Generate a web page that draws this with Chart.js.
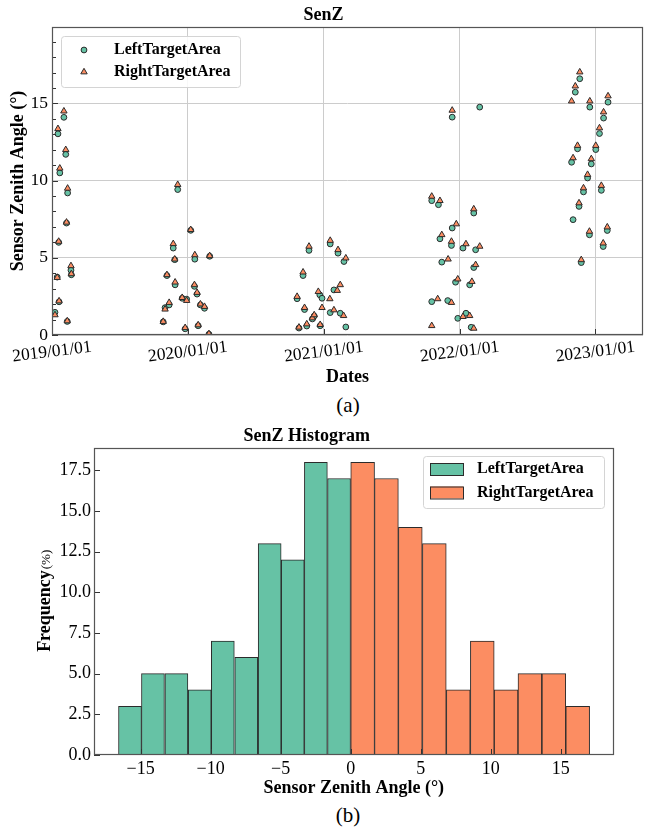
<!DOCTYPE html>
<html>
<head>
<meta charset="utf-8">
<script src="https://cdn.jsdelivr.net/npm/chart.js@4.4.1/dist/chart.umd.min.js"></script>
<style>
  body { margin: 0; background: #fff; }
  #wrap { position: relative; width: 648px; height: 827px; overflow: hidden; }
  canvas { position: absolute; left: 0; }
  .cap { position: absolute; left: 298px; width: 100px; text-align: center;
         font: 21px 'Liberation Serif', 'Times New Roman', serif; line-height: 24px; color: #000; }
</style>
</head>
<body>
<div id="wrap">
  <canvas id="senz" width="648" height="390" style="top:0"></canvas>
  <div class="cap" style="top:393px">(a)</div>
  <canvas id="hist" width="648" height="380" style="top:420px"></canvas>
  <div class="cap" style="top:803px">(b)</div>
</div>
<script>
const FONT = "'Liberation Serif', 'Times New Roman', serif";
const GREEN = '#66c2a5', ORANGE = '#fc8d62', EDGE = '#2b2b2b';

// scatter (a)
const yearTicks = ['2019/01/01', '2020/01/01', '2021/01/01', '2022/01/01', '2023/01/01'];
const senZTicks = [0, 5, 10, 15];

const leftDates = [
  '2019-01-09','2019-01-15','2019-01-17','2019-01-19','2019-01-20','2019-01-22','2019-02-02','2019-02-07',
  '2019-02-09','2019-02-11','2019-02-12','2019-02-21','2019-02-22',
  '2019-10-27','2019-11-01','2019-11-06','2019-11-12','2019-11-23','2019-11-27','2019-11-28','2019-12-05',
  '2019-12-17','2019-12-25','2019-12-29','2020-01-09','2020-01-19','2020-01-20','2020-01-26','2020-01-29',
  '2020-02-04','2020-02-15','2020-02-27','2020-02-29',
  '2020-10-21','2020-10-26','2020-11-06','2020-11-10','2020-11-16','2020-11-22','2020-12-01','2020-12-06',
  '2020-12-21','2020-12-22','2020-12-27','2021-01-18','2021-01-18','2021-01-28','2021-02-08','2021-02-14',
  '2021-02-24','2021-03-01',
  '2021-10-18','2021-10-18','2021-11-05','2021-11-09','2021-11-14','2021-11-30','2021-12-10','2021-12-12',
  '2021-12-12','2021-12-21','2021-12-27','2022-01-10','2022-01-18','2022-01-28','2022-02-01','2022-02-08',
  '2022-02-08','2022-02-13','2022-02-24',
  '2022-10-29','2022-11-02','2022-11-08','2022-11-14','2022-11-18','2022-11-20','2022-11-24','2022-11-30',
  '2022-12-11','2022-12-16','2022-12-17','2022-12-21','2023-01-02','2023-01-12','2023-01-17','2023-01-22',
  '2023-01-23','2023-02-02','2023-02-04'
];
const leftSenZ = [
  1.47, 3.75, 13.03, 6.0, 2.15, 10.5, 14.1, 11.7,
  7.25, 0.88, 9.2, 4.2, 3.9,
  0.85, 1.77, 3.85, 1.95, 5.63, 4.88, 3.25, 9.42,
  2.38, 0.4, 2.32, 6.78, 3.15, 4.91, 2.65, 0.6,
  1.95, 1.73, 0.05, 5.1,
  2.35, 0.45, 3.85, 1.65, 0.58, 5.48, 1.04, 1.23,
  2.6, 0.6, 2.38, 5.9, 1.45, 2.92, 5.3, 1.41,
  4.76, 0.52,
  2.16, 8.7, 8.44, 6.23, 4.72, 2.23, 5.8, 14.11,
  6.93, 3.42, 1.08, 5.63, 1.41, 3.25, 0.5, 7.9,
  4.37, 5.52, 14.76,
  11.19, 7.47, 15.73, 12.06, 8.33, 16.6, 4.69, 9.27,
  10.17, 6.49, 14.76, 11.08, 12.01, 13.05, 9.37, 5.73,
  14.05, 6.77, 15.08
];

const rightDates = [
  '2019-01-09','2019-01-15','2019-01-17','2019-01-19','2019-01-20','2019-01-22','2019-02-02','2019-02-07',
  '2019-02-09','2019-02-11','2019-02-12','2019-02-21','2019-02-22',
  '2019-10-27','2019-11-01','2019-11-06','2019-11-12','2019-11-23','2019-11-27','2019-11-28','2019-12-05',
  '2019-12-17','2019-12-25','2019-12-29','2020-01-09','2020-01-19','2020-01-20','2020-01-26','2020-01-29',
  '2020-02-04','2020-02-15','2020-02-27','2020-02-29',
  '2020-10-21','2020-10-26','2020-11-06','2020-11-10','2020-11-16','2020-11-22','2020-12-01','2020-12-06',
  '2020-12-17','2020-12-22','2020-12-27','2021-01-17','2021-01-18','2021-01-28','2021-02-06','2021-02-08',
  '2021-02-14','2021-02-23','2021-03-01',
  '2021-10-18','2021-10-18','2021-11-03','2021-11-09','2021-11-14','2021-12-01','2021-12-10','2021-12-10',
  '2021-12-12','2021-12-23','2021-12-27','2022-01-10','2022-01-18','2022-01-28','2022-02-03','2022-02-08',
  '2022-02-08','2022-02-13','2022-02-24',
  '2022-10-29','2022-11-02','2022-11-08','2022-11-14','2022-11-18','2022-11-20','2022-11-24','2022-11-30',
  '2022-12-11','2022-12-16','2022-12-17','2022-12-21','2023-01-02','2023-01-12','2023-01-17','2023-01-22',
  '2023-01-23','2023-02-02','2023-02-04'
];
const rightSenZ = [
  1.3, 3.72, 13.36, 6.06, 2.2, 10.8, 14.5, 12.0,
  7.3, 0.91, 9.5, 4.48, 3.96,
  0.87, 1.67, 3.9, 2.1, 5.91, 4.91, 3.42, 9.74,
  2.42, 0.47, 2.23, 6.82, 3.25, 5.19, 2.75, 0.65,
  2.0, 1.84, 0.08, 5.13,
  2.49, 0.5, 4.07, 1.77, 0.71, 5.74, 1.1, 1.3,
  2.81, 0.67, 1.77, 2.34, 6.12, 1.62, 2.88, 5.52,
  3.25, 1.25, 4.98,
  0.6, 8.98, 2.34, 8.7, 6.49, 4.91, 6.06, 2.1,
  14.55, 7.19, 3.62, 1.19, 5.9, 1.25, 3.46, 8.16,
  0.43, 4.55, 5.74,
  15.15, 11.47, 16.12, 12.27, 8.55, 17.03, 4.87, 9.52,
  10.39, 6.71, 15.15, 11.41, 12.27, 13.41, 9.68, 5.95,
  14.44, 6.99, 15.48
];

// histogram (b)
const leftBinEdges = [-16.57, -14.95, -13.29, -11.6, -9.96, -8.3, -6.61, -4.96, -3.31, -1.66, 0];
const leftFreq = [3, 5, 5, 4, 7, 6, 13, 12, 18, 17];
const rightBinEdges = [0, 1.71, 3.4, 5.12, 6.83, 8.54, 10.26, 11.94, 13.66, 15.36, 17.07];
const rightFreq = [18, 17, 14, 13, 4, 7, 4, 5, 5, 3];
const histXTicks = [-15, -10, -5, 0, 5, 10, 15];
const histYTicks = [0, 2.5, 5, 7.5, 10, 12.5, 15, 17.5];

const DAY0 = Date.UTC(2019, 0, 1);
function dayOf(s) {
  const p = s.split(/[-\/]/).map(Number);
  return (Date.UTC(p[0], p[1] - 1, p[2]) - DAY0) / 86400000;
}
function fixTicks(values) {
  return s => { s.ticks = values.map(v => ({ value: v })); };
}

function drawFrame(chart, xMajor, yMajor, yMinor) {
  const { ctx, chartArea: a, scales } = chart;
  ctx.save();
  ctx.strokeStyle = '#333';
  ctx.lineWidth = 1;
  ctx.beginPath();
  xMajor.forEach(v => {
    const x = Math.round(scales.x.getPixelForValue(v)) + 0.5;
    ctx.moveTo(x, a.bottom); ctx.lineTo(x, a.bottom - 6);
  });
  yMajor.forEach(v => {
    const y = Math.round(scales.y.getPixelForValue(v)) + 0.5;
    ctx.moveTo(a.left, y); ctx.lineTo(a.left + 6, y);
  });
  yMinor.forEach(v => {
    const y = Math.round(scales.y.getPixelForValue(v)) + 0.5;
    ctx.moveTo(a.left, y); ctx.lineTo(a.left + 4, y);
  });
  ctx.stroke();
  ctx.strokeStyle = '#555';
  ctx.lineWidth = 1.2;
  ctx.strokeRect(Math.round(a.left) + 0.5, Math.round(a.top) + 0.5,
                 Math.round(a.right - a.left) - 1, Math.round(a.bottom - a.top) - 1);
  ctx.restore();
}

function legendBox(ctx, x, y, w, h) {
  ctx.save();
  ctx.fillStyle = 'rgba(255,255,255,0.85)';
  ctx.strokeStyle = '#d4d4d4';
  ctx.lineWidth = 1;
  ctx.beginPath();
  ctx.roundRect(x + 0.5, y + 0.5, w, h, 3);
  ctx.fill();
  ctx.stroke();
  ctx.restore();
}

const boldFont = { family: FONT, size: 18, weight: 'bold' };

// ---------- (a) scatter ----------
const scatterDecor = {
  id: 'scatterDecor',
  afterDraw(chart) {
    const { ctx, chartArea: a, scales } = chart;
    const minor = [];
    for (let v = 1; v < 20; v++) if (v % 5) minor.push(v);
    drawFrame(chart, yearTicks.map(dayOf), senZTicks, minor);

    // slightly tilted date labels
    ctx.save();
    ctx.fillStyle = '#000';
    ctx.font = '17.5px ' + FONT;
    ctx.textAlign = 'center';
    ctx.textBaseline = 'middle';
    scales.x.ticks.forEach((t, i) => {
      ctx.save();
      ctx.translate(scales.x.getPixelForValue(t.value), a.bottom + 17);
      ctx.rotate(-7 * Math.PI / 180);
      ctx.fillText(yearTicks[i], 0, 0);
      ctx.restore();
    });
    ctx.restore();

    // legend
    legendBox(ctx, 61, 36, 179, 51);
    const left = chart.data.datasets[1], right = chart.data.datasets[0];
    ctx.save();
    ctx.strokeStyle = EDGE;
    ctx.lineWidth = 1;
    ctx.fillStyle = left.backgroundColor;
    ctx.beginPath(); ctx.arc(84, 50, left.pointRadius, 0, Math.PI * 2); ctx.fill(); ctx.stroke();
    const r = right.pointRadius;
    ctx.fillStyle = right.backgroundColor;
    ctx.beginPath();
    ctx.moveTo(84, 72 - r);
    ctx.lineTo(84 + r * 0.866, 72 + r * 0.5);
    ctx.lineTo(84 - r * 0.866, 72 + r * 0.5);
    ctx.closePath(); ctx.fill(); ctx.stroke();
    ctx.fillStyle = '#000';
    ctx.font = 'bold 16px ' + FONT;
    ctx.textBaseline = 'middle';
    ctx.fillText(left.label, 114, 50);
    ctx.fillText(right.label, 114, 72);
    ctx.restore();
  }
};

new Chart(document.getElementById('senz'), {
  type: 'scatter',
  data: {
    datasets: [
      {
        label: 'RightTargetArea',
        data: rightDates.map((d, i) => ({ x: dayOf(d), y: rightSenZ[i] })),
        pointStyle: 'triangle', pointRadius: 3.7,
        backgroundColor: ORANGE, borderColor: EDGE, borderWidth: 1, order: 0
      },
      {
        label: 'LeftTargetArea',
        data: leftDates.map((d, i) => ({ x: dayOf(d), y: leftSenZ[i] })),
        pointStyle: 'circle', pointRadius: 2.9,
        backgroundColor: GREEN, borderColor: EDGE, borderWidth: 1, order: 1
      }
    ]
  },
  options: {
    responsive: false,
    animation: false,
    devicePixelRatio: 1,
    layout: { padding: { left: 0, right: 1, top: 0, bottom: 0 } },
    plugins: {
      legend: { display: false },
      tooltip: { enabled: false },
      title: { display: true, text: 'SenZ', color: '#000', font: boldFont, padding: { top: 5, bottom: 0.4 } }
    },
    scales: {
      x: {
        type: 'linear', min: 0, max: 1589,
        afterBuildTicks: fixTicks(yearTicks.map(dayOf)),
        afterFit: s => { s.height = 55; },
        ticks: { display: false },
        grid: { color: '#cccccc', lineWidth: 1, drawTicks: false },
        border: { display: false },
        title: { display: true, text: 'Dates', color: '#000', font: boldFont, padding: { top: 0, bottom: 2.2 } }
      },
      y: {
        type: 'linear', min: 0, max: 19.95,
        afterBuildTicks: fixTicks(senZTicks),
        afterFit: s => { s.width = 52; },
        ticks: { color: '#000', font: { family: FONT, size: 17.5 }, padding: 4, callback: v => String(v) },
        grid: { color: '#cccccc', lineWidth: 1, drawTicks: false },
        border: { display: false },
        title: { display: true, text: 'Sensor Zenith Angle (°)', color: '#000', font: boldFont, padding: { top: 7.2, bottom: 0 } }
      }
    }
  },
  plugins: [scatterDecor]
});

// ---------- (b) histogram ----------
const histDecor = {
  id: 'histDecor',
  afterDraw(chart) {
    const { ctx, chartArea: a } = chart;
    drawFrame(chart, histXTicks, histYTicks, []);

    // y title: bold "Frequency" + small "(%)"
    ctx.save();
    ctx.fillStyle = '#000';
    ctx.translate(44, (a.top + a.bottom) / 2);
    ctx.rotate(-Math.PI / 2);
    ctx.textBaseline = 'alphabetic';
    ctx.font = 'bold 18px ' + FONT;
    const w1 = ctx.measureText('Frequency').width;
    ctx.font = '13px ' + FONT;
    const w2 = ctx.measureText('(%)').width;
    const x0 = -(w1 + w2) / 2;
    ctx.font = 'bold 18px ' + FONT;
    ctx.fillText('Frequency', x0, 6);
    ctx.font = '13px ' + FONT;
    ctx.fillText('(%)', x0 + w1 + 1, 6);
    ctx.restore();

    // legend
    legendBox(ctx, 423, 36, 181, 52);
    ctx.save();
    const rows = [[chart.data.datasets[0], 49], [chart.data.datasets[1], 72.5]];
    rows.forEach(([ds, y]) => {
      ctx.fillStyle = ds.backgroundColor;
      ctx.strokeStyle = EDGE;
      ctx.lineWidth = 1;
      ctx.fillRect(430, y - 6, 33, 12);
      ctx.strokeRect(430.5, y - 5.5, 33, 12);
      ctx.fillStyle = '#000';
      ctx.font = 'bold 16px ' + FONT;
      ctx.textBaseline = 'middle';
      ctx.fillText(ds.label, 477, y);
    });
    ctx.restore();
  }
};

const barCommon = { borderColor: EDGE, borderWidth: 1, barPercentage: 1, categoryPercentage: 1, grouped: false, borderSkipped: false };

new Chart(document.getElementById('hist'), {
  type: 'bar',
  data: {
    datasets: [
      Object.assign({
        label: 'LeftTargetArea', xAxisID: 'x', backgroundColor: GREEN,
        data: leftFreq.map((f, i) => ({ x: (leftBinEdges[i] + leftBinEdges[i + 1]) / 2, y: f }))
      }, barCommon),
      Object.assign({
        label: 'RightTargetArea', xAxisID: 'x2', backgroundColor: ORANGE,
        data: rightFreq.map((f, i) => ({ x: (rightBinEdges[i] + rightBinEdges[i + 1]) / 2, y: f }))
      }, barCommon)
    ]
  },
  options: {
    responsive: false,
    animation: false,
    devicePixelRatio: 1,
    layout: { padding: { left: 0, right: 34.5, top: 0, bottom: 0 } },
    plugins: {
      legend: { display: false },
      tooltip: { enabled: false },
      title: { display: true, text: 'SenZ Histogram', color: '#000', font: boldFont, padding: { top: 6, bottom: 0 } }
    },
    scales: {
      x: {
        type: 'linear', min: -18.33, max: 18.77, offset: false,
        afterBuildTicks: fixTicks(histXTicks),
        afterFit: s => { s.height = 45; },
        ticks: { color: '#000', font: { family: FONT, size: 18 }, padding: 3, maxRotation: 0,
                 callback: v => String(v).replace('-', '\u2212') },
        grid: { display: false, drawTicks: false, offset: false },
        border: { display: false },
        title: { display: true, text: 'Sensor Zenith Angle (°)', color: '#000', font: boldFont, padding: { top: 0, bottom: 1.2 } }
      },
      x2: { type: 'linear', display: false, min: -18.33, max: 18.77, offset: false, grid: { offset: false } },
      y: {
        type: 'linear', min: 0, max: 18.9,
        afterBuildTicks: fixTicks(histYTicks),
        afterFit: s => { s.width = 94; },
        ticks: { color: '#000', font: { family: FONT, size: 18 }, padding: 3, callback: v => v.toFixed(1) },
        grid: { display: false, drawTicks: false },
        border: { display: false },
        title: { display: false }
      }
    }
  },
  plugins: [histDecor]
});
</script>
</body>
</html>
